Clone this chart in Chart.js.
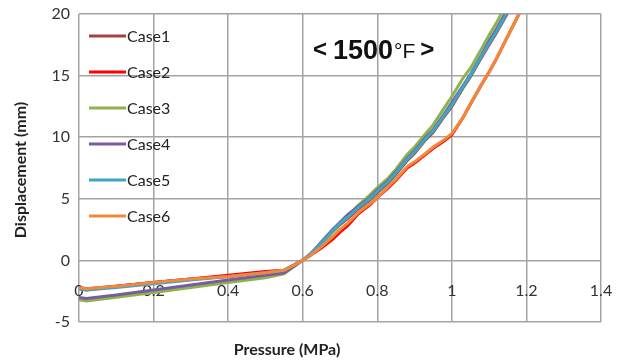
<!DOCTYPE html>
<html>
<head>
<meta charset="utf-8">
<script src="https://cdn.jsdelivr.net/npm/chart.js@4.4.0/dist/chart.umd.min.js"></script>
<style>
    html, body { margin: 0; padding: 0; background: #fff; }
    #wrap { width: 620px; height: 363px; position: relative; }
</style>
</head>
<body>
<div id="wrap"><canvas id="dispChart"></canvas></div>
<script>
// values
const pressure = [0, 0.02, 0.1, 0.2, 0.3, 0.4, 0.5, 0.55, 0.6, 0.62, 0.65, 0.68, 0.7, 0.72, 0.75, 0.78, 0.8,
    0.83, 0.85, 0.88, 0.9, 0.93, 0.95, 0.98, 1.0, 1.03, 1.05, 1.08, 1.1, 1.12, 1.15, 1.18, 1.2];

const case1 = [-2.3, -2.4, -2.1, -1.8, -1.5, -1.3, -1.0, -0.8, 0, 0.5, 1.3, 2.3, 2.9, 3.4, 4.2, 4.9, 5.5,
    6.3, 7.0, 8.1, 8.7, 9.8, 10.4, 11.7, 12.5, 14.0, 14.9, 16.5, 17.5, 18.5, 20.1, 21.4, 22.4];
const case2 = [-2.2, -2.3, -2.1, -1.8, -1.5, -1.2, -0.9, -0.8, 0, 0.4, 1.0, 1.7, 2.3, 2.8, 3.8, 4.5, 5.1,
    5.9, 6.5, 7.5, 7.9, 8.6, 9.1, 9.7, 10.2, 11.6, 12.7, 14.3, 15.3, 16.4, 18.2, 20.0, 21.2];
const case3 = [-3.2, -3.3, -3.0, -2.6, -2.2, -1.8, -1.4, -1.1, 0, 0.4, 1.3, 2.3, 3.0, 3.6, 4.5, 5.3, 5.9,
    6.7, 7.4, 8.6, 9.2, 10.3, 11.0, 12.4, 13.3, 14.8, 15.6, 17.2, 18.3, 19.3, 21.0, 22.5, 23.5];
const case4 = [-3.0, -3.1, -2.8, -2.4, -2.0, -1.6, -1.2, -1.0, 0, 0.5, 1.5, 2.5, 3.1, 3.7, 4.4, 5.1, 5.7,
    6.5, 7.2, 8.3, 8.9, 10.0, 10.6, 11.9, 12.8, 14.2, 15.1, 16.7, 17.8, 18.8, 20.4, 21.7, 22.7];
const case5 = [-2.3, -2.4, -2.2, -1.9, -1.6, -1.3, -1.0, -0.8, 0, 0.5, 1.4, 2.4, 3.0, 3.5, 4.3, 5.0, 5.6,
    6.4, 7.1, 8.2, 8.8, 9.9, 10.5, 11.8, 12.6, 14.1, 15.0, 16.6, 17.6, 18.6, 20.2, 21.5, 22.5];
const case6 = [-2.2, -2.3, -2.1, -1.8, -1.5, -1.3, -1.0, -0.8, 0, 0.4, 1.1, 1.9, 2.5, 3.0, 3.9, 4.6, 5.1,
    6.0, 6.6, 7.6, 8.0, 8.7, 9.2, 9.8, 10.3, 11.6, 12.7, 14.3, 15.3, 16.4, 18.2, 20.0, 21.2];

const caseNames = ['Case1', 'Case2', 'Case3', 'Case4', 'Case5', 'Case6'];
const caseValues = [case1, case2, case3, case4, case5, case6];
const caseColors = ['#a3423e', '#ff0000', '#8db44c', '#7a5aa0', '#3fa6c4', '#f0893c'];

const xTicks = [0, 0.2, 0.4, 0.6, 0.8, 1, 1.2, 1.4];
const yTicks = [-5, 0, 5, 10, 15, 20];

const FONT = 'Lato, "Open Sans", sans-serif';
const GRID = '#a3a3a3';

// legend drawn inside the plot, one entry per row like the original
const insideLegend = {
    id: 'insideLegend',
    afterDraw(chart) {
        const ctx = chart.ctx;
        ctx.save();
        chart.data.datasets.forEach((ds, i) => {
            const y = 36 + i * 36;
            ctx.strokeStyle = ds.borderColor;
            ctx.lineWidth = 3;
            ctx.beginPath();
            ctx.moveTo(89, y);
            ctx.lineTo(126, y);
            ctx.stroke();
            ctx.fillStyle = '#222';
            ctx.font = '16px ' + FONT;
            ctx.textBaseline = 'middle';
            ctx.textAlign = 'left';
            ctx.fillText(ds.label, 127, y + 1);
        });
        ctx.restore();
    }
};

// axis titles and the temperature note
const labelsPlugin = {
    id: 'labelsPlugin',
    afterDraw(chart) {
        const ctx = chart.ctx;
        ctx.save();
        ctx.fillStyle = '#222';
        ctx.font = 'bold 16px ' + FONT;
        ctx.textAlign = 'center';
        ctx.textBaseline = 'middle';
        ctx.fillText('Pressure (MPa)', 287, 350);
        ctx.translate(21, 170);
        ctx.rotate(-Math.PI / 2);
        ctx.fillText('Displacement (mm)', 0, 0);
        ctx.restore();

        ctx.save();
        ctx.fillStyle = '#111';
        ctx.textBaseline = 'alphabetic';
        ctx.textAlign = 'left';
        let x = 313;
        const base = 59;
        ctx.font = 'bold 24px "Liberation Sans", sans-serif';
        ctx.fillText('<', x, base - 2);
        x += 20;
        ctx.font = 'bold 27px "Liberation Sans Narrow", "Liberation Sans", sans-serif';
        ctx.fillText('1500', x, base);
        x += ctx.measureText('1500').width + 1;
        ctx.font = '21px "Liberation Sans", sans-serif';
        ctx.fillText('°F', x, base - 1);
        x += ctx.measureText('°F').width + 5;
        ctx.font = 'bold 24px "Liberation Sans", sans-serif';
        ctx.fillText('>', x, base - 2);
        ctx.restore();
    }
};

new Chart(document.getElementById('dispChart'), {
    type: 'scatter',
    data: {
        datasets: caseNames.map((name, i) => ({
            label: name,
            data: pressure.map((p, k) => ({ x: p, y: caseValues[i][k] })),
            showLine: true,
            order: caseNames.length - i, // later cases drawn on top, as in the original
            borderColor: caseColors[i],
            backgroundColor: caseColors[i],
            borderWidth: 3,
            pointRadius: 0,
            tension: 0
        }))
    },
    options: {
        responsive: true, maintainAspectRatio: false,
        animation: false,
        layout: { padding: { left: 0, right: 19, top: 14, bottom: 41 } },
        scales: {
            x: {
                type: 'linear',
                position: { y: 0 },
                min: 0, max: 1.4,
                afterBuildTicks: s => { s.ticks = xTicks.map(v => ({ value: v })); },
                afterFit: s => { s.paddingLeft = 0; s.paddingRight = 0; },
                grid: { color: GRID, lineWidth: 1.5, drawTicks: false },
                border: { display: false },
                ticks: {
                    color: '#333', padding: 21,
                    font: { family: FONT, size: 16 },
                    callback: v => String(Math.round(v * 10) / 10)
                }
            },
            y: {
                min: -5, max: 20,
                afterBuildTicks: s => { s.ticks = yTicks.map(v => ({ value: v })); },
                afterFit: s => { s.width = 79; s.paddingTop = 0; s.paddingBottom = 0; },
                grid: { color: GRID, lineWidth: 1.5, drawTicks: false },
                border: { display: false },
                ticks: {
                    color: '#333', padding: 9,
                    font: { family: FONT, size: 16 }
                }
            }
        },
        plugins: {
            legend: { display: false },
            tooltip: { enabled: false }
        }
    },
    plugins: [insideLegend, labelsPlugin]
});
</script>
</body>
</html>
